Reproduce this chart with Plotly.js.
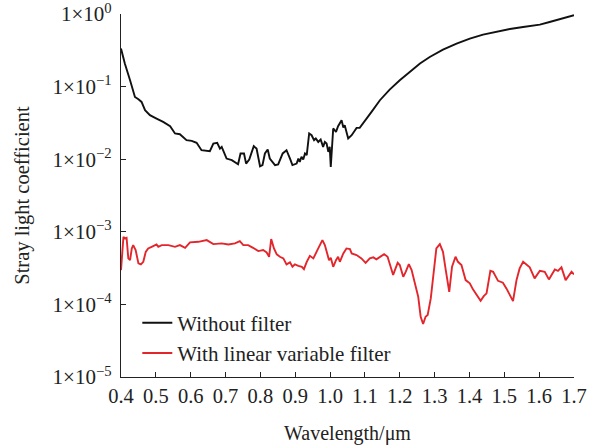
<!DOCTYPE html>
<html>
<head>
<meta charset="utf-8">
<script src="https://cdn.plot.ly/plotly-3.0.1.min.js"></script>
<style>html,body{margin:0;padding:0;background:#fff;}#chart{width:598px;height:447px;}</style>
</head>
<body>
<div id="chart"></div>
<script>
const seriesNames = ["Without filter", "With linear variable filter"];

const wlNoFilter = [0.400,0.411,0.426,0.440,0.450,0.459,0.469,0.483,0.502,0.521,0.541,0.555,0.569,0.588,0.603,0.617,0.631,0.655,0.665,0.676,0.684,0.689,0.703,0.718,0.736,0.743,0.753,0.759,0.768,0.781,0.789,0.799,0.806,0.813,0.821,0.827,0.842,0.851,0.864,0.875,0.885,0.892,0.904,0.909,0.913,0.918,0.923,0.928,0.933,0.940,0.947,0.954,0.959,0.966,0.973,0.980,0.985,0.990,0.995,0.999,1.002,1.009,1.017,1.023,1.033,1.038,1.042,1.052,1.062,1.076,1.085,1.095,1.119,1.143,1.171,1.200,1.229,1.258,1.286,1.324,1.363,1.401,1.439,1.478,1.516,1.554,1.602,1.630,1.669,1.700];
const coefNoFilter = [0.334,0.208,0.122,0.072,0.067,0.0615,0.0473,0.0404,0.0363,0.0327,0.0285,0.0226,0.0221,0.0183,0.0179,0.0168,0.0133,0.0129,0.0164,0.0168,0.0140,0.0148,0.0102,0.0097,0.0085,0.0120,0.0120,0.0087,0.0099,0.0151,0.0140,0.0080,0.0083,0.0120,0.0136,0.0102,0.0083,0.0085,0.0120,0.0133,0.0102,0.0083,0.0087,0.0102,0.0092,0.0108,0.0099,0.0120,0.0114,0.0226,0.0214,0.0183,0.0193,0.0173,0.0187,0.0148,0.0173,0.0164,0.0126,0.0148,0.0078,0.0265,0.0238,0.0285,0.0345,0.0273,0.0294,0.0193,0.0214,0.0270,0.0270,0.0310,0.0448,0.0649,0.091,0.122,0.160,0.208,0.256,0.323,0.391,0.458,0.520,0.572,0.622,0.662,0.714,0.776,0.881,0.960];

const wlLVF = [0.400,0.407,0.411,0.416,0.421,0.426,0.431,0.435,0.442,0.450,0.457,0.464,0.471,0.478,0.488,0.496,0.502,0.507,0.517,0.536,0.555,0.569,0.584,0.598,0.622,0.646,0.665,0.689,0.708,0.727,0.741,0.751,0.765,0.779,0.794,0.808,0.818,0.825,0.831,0.839,0.847,0.856,0.866,0.875,0.885,0.892,0.899,0.909,0.919,0.925,0.933,0.942,0.952,0.966,0.978,0.985,0.992,0.997,1.002,1.009,1.017,1.023,1.028,1.038,1.047,1.057,1.062,1.076,1.090,1.102,1.114,1.124,1.133,1.143,1.155,1.165,1.171,1.181,1.186,1.194,1.200,1.210,1.217,1.226,1.234,1.243,1.253,1.260,1.267,1.274,1.280,1.289,1.299,1.305,1.315,1.324,1.332,1.342,1.350,1.360,1.367,1.377,1.389,1.401,1.410,1.420,1.432,1.441,1.449,1.460,1.468,1.482,1.496,1.506,1.516,1.525,1.535,1.544,1.554,1.564,1.573,1.587,1.602,1.616,1.628,1.645,1.654,1.664,1.676,1.693,1.700];
const coefLVF = [2.97e-4,8.53e-4,8.10e-4,8.27e-4,4.30e-4,4.07e-4,5.90e-4,6.56e-4,5.60e-4,3.67e-4,3.56e-4,3.86e-4,5.30e-4,5.90e-4,6.21e-4,6.41e-4,6.70e-4,6.21e-4,6.56e-4,6.56e-4,6.21e-4,6.56e-4,6.02e-4,7.14e-4,7.28e-4,7.69e-4,6.76e-4,6.92e-4,6.70e-4,6.92e-4,7.45e-4,6.56e-4,6.56e-4,6.02e-4,5.42e-4,5.60e-4,5.20e-4,4.53e-4,7.93e-4,5.90e-4,4.89e-4,4.53e-4,4.30e-4,3.56e-4,3.79e-4,3.30e-4,3.56e-4,3.40e-4,3.30e-4,3.06e-4,3.86e-4,4.67e-4,4.30e-4,5.90e-4,7.69e-4,6.56e-4,4.78e-4,4.07e-4,4.38e-4,3.30e-4,4.07e-4,4.53e-4,3.86e-4,5.04e-4,5.90e-4,5.78e-4,5.04e-4,4.78e-4,4.30e-4,3.74e-4,4.30e-4,4.44e-4,4.17e-4,4.53e-4,4.93e-4,4.53e-4,3.67e-4,2.54e-4,2.97e-4,3.74e-4,3.48e-4,2.40e-4,2.81e-4,3.59e-4,2.97e-4,2.05e-4,1.27e-4,6.76e-5,5.36e-5,6.76e-5,7.13e-5,1.21e-4,2.97e-4,5.90e-4,6.76e-4,5.30e-4,2.97e-4,1.49e-4,3.30e-4,4.53e-4,3.86e-4,3.48e-4,2.16e-4,1.95e-4,1.61e-4,1.35e-4,1.12e-4,1.30e-4,1.42e-4,2.90e-4,2.81e-4,2.11e-4,1.99e-4,1.66e-4,1.35e-4,1.11e-4,2.16e-4,3.13e-4,3.86e-4,3.48e-4,3.24e-4,2.28e-4,2.90e-4,2.81e-4,2.21e-4,3.03e-4,2.90e-4,3.24e-4,2.16e-4,2.81e-4,2.59e-4];

const xTickVals = [0.4,0.5,0.6,0.7,0.8,0.9,1.0,1.1,1.2,1.3,1.4,1.5,1.6,1.7];
const xTickText = ["0.4","0.5","0.6","0.7","0.8","0.9","1.0","1.1","1.2","1.3","1.4","1.5","1.6","1.7"];
const yTickVals = [1e-5,1e-4,1e-3,1e-2,1e-1,1];
const yTickText = ["1×10<sup>−5</sup>","1×10<sup>−4</sup>","1×10<sup>−3</sup>","1×10<sup>−2</sup>","1×10<sup>−1</sup>","1×10<sup>0</sup>"];
const yTitleText = "Stray light coefficient";

const fontFam = "Liberation Serif, Times New Roman, serif";
const traces = [
  {x: wlNoFilter, y: coefNoFilter, name: seriesNames[0], mode: "lines", line: {color: "#111111", width: 1.9}},
  {x: wlLVF, y: coefLVF, name: seriesNames[1], mode: "lines", line: {color: "#e3262b", width: 1.9}}
];
const layout = {
  width: 598, height: 447,
  margin: {l: 121, r: 24, t: 14, b: 70},
  paper_bgcolor: "#fff", plot_bgcolor: "#fff",
  font: {family: fontFam, size: 20, color: "#222"},
  showlegend: true,
  legend: {x: 0.036, y: 0.205, xanchor: "left", yanchor: "top", bgcolor: "rgba(0,0,0,0)", font: {family: fontFam, size: 21, color: "#222"}, tracegroupgap: 0},
  xaxis: {
    range: [0.4, 1.7], tickvals: xTickVals, ticktext: xTickText,
    showline: true, linecolor: "#222", linewidth: 1.2, mirror: false,
    ticks: "inside", ticklen: 5, tickcolor: "#222", showgrid: false, zeroline: false,
    ticklabeloverflow: "allow",
    tickfont: {family: fontFam, size: 20.5, color: "#222"},
    title: {text: "Wavelength/μm", font: {family: fontFam, size: 20, color: "#222"}, standoff: 20}
  },
  yaxis: {
    type: "log", range: [-5, 0], tickvals: yTickVals, ticktext: yTickText,
    showline: true, linecolor: "#222", linewidth: 1.2, mirror: false,
    ticks: "inside", ticklen: 5, tickcolor: "#222", showgrid: false, zeroline: false,
    ticklabelstandoff: 4, ticklabeloverflow: "allow",
    tickfont: {family: fontFam, size: 21, color: "#222"}
  },
  annotations: [{
    text: yTitleText, textangle: -90, showarrow: false,
    xref: "paper", yref: "paper", x: -0.218, y: 0.5, xanchor: "center", yanchor: "middle",
    font: {family: fontFam, size: 20.5, color: "#222"}
  }]
};
Plotly.newPlot("chart", traces, layout, {displayModeBar: false, staticPlot: true});
</script>
</body>
</html>
